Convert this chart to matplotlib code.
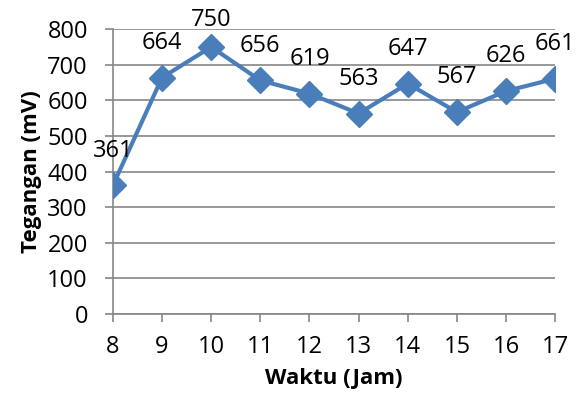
import matplotlib.pyplot as plt

jam = [8, 9, 10, 11, 12, 13, 14, 15, 16, 17]
tegangan = [361, 664, 750, 656, 619, 563, 647, 567, 626, 661]
y_ticks = [0, 100, 200, 300, 400, 500, 600, 700, 800]

plt.rcParams['font.family'] = ['Open Sans', 'DejaVu Sans']

fig = plt.figure(figsize=(5.85, 4.05), dpi=100)
ax = fig.add_axes([0.193, 0.225, 0.756, 0.703])

ax.plot(jam, tegangan, color='#4A7EBB', linewidth=3, marker='D',
        markersize=13, zorder=3)
labels = []
for x, y in zip(jam, tegangan):
    t = ax.annotate(str(y), (x, y), xytext=(0, 25), textcoords='offset points',
                    ha='center', va='center', fontsize=17)
    labels.append(t)

ax.set_xlim(8, 17)
ax.set_ylim(0, 800)
ax.set_xticks(jam)
ax.set_yticks(y_ticks)
ax.tick_params(labelsize=17, color='#868686', length=6, width=1.2)
ax.tick_params(axis='x', pad=9)
ax.tick_params(axis='y', pad=12)
ax.grid(axis='y', color='#868686', linewidth=1.2)
ax.set_axisbelow(True)
for s in ['top', 'right']:
    ax.spines[s].set_visible(False)
for s in ['left', 'bottom']:
    ax.spines[s].set_color('#868686')
    ax.spines[s].set_linewidth(1.2)

ax.set_xlabel('Waktu (Jam)', fontsize=16, fontweight='bold', labelpad=7)
ax.set_ylabel('Tegangan (mV)', fontsize=16, fontweight='bold', labelpad=4)

# keep data labels inside the figure (push down ones that stick out the top)
fig.canvas.draw()
top = fig.bbox.height - 8
for t in labels:
    bb = t.get_window_extent()
    if bb.y1 > top:
        dx, dy = t.xyann
        t.xyann = (dx, dy - (bb.y1 - top) * 72 / fig.dpi)

fig.savefig('out.png', dpi=100)
